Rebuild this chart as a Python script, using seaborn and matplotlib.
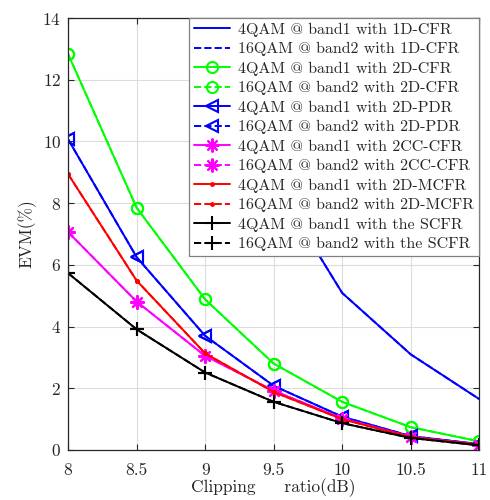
# EVM vs clipping ratio for the different CFR schemes

import matplotlib
matplotlib.use('Agg')
import matplotlib.pyplot as plt
import pandas as pd
import seaborn as sns

clipping_ratio = [8, 8.5, 9, 9.5, 10, 10.5, 11]

# EVM (%); band2 curves sit right under band1
evm_1d_cfr = [27.0, 19.5, 13.0, 8.7, 5.09, 3.1, 1.65]
evm_2d_cfr = [12.83, 7.85, 4.88, 2.8, 1.56, 0.74, 0.28]
evm_2d_pdr = [10.07, 6.25, 3.7, 2.08, 1.08, 0.45, 0.19]
evm_2cc_cfr = [7.06, 4.81, 3.05, 1.92, 1.02, 0.43, 0.17]
evm_2d_mcfr = [8.94, 5.49, 3.13, 1.88, 1.0, 0.42, 0.17]
evm_scfr = [5.73, 3.91, 2.51, 1.56, 0.87, 0.39, 0.15]

schemes = ['1D-CFR', '2D-CFR', '2D-PDR', '2CC-CFR', '2D-MCFR', 'the SCFR']
scheme_values = [evm_1d_cfr, evm_2d_cfr, evm_2d_pdr, evm_2cc_cfr, evm_2d_mcfr, evm_scfr]
scheme_colors = ['#0000ff', '#00ff00', '#0000ff', '#ff00ff', '#ff0000', '#000000']
scheme_markers = [None, 'o', '<', (8, 2, 0), '.', '+']
marker_sizes = [8, 8, 8, 10, 4, 10]


def build_frame():
    rows = []
    for name, vals in zip(schemes, scheme_values):
        for band, mod in [('band1', '4QAM'), ('band2', '16QAM')]:
            for x, y in zip(clipping_ratio, vals):
                rows.append({'ratio': x, 'evm': y, 'scheme': name,
                             'band': band, 'label': f'{mod} @ {band} with {name}'})
    return pd.DataFrame(rows)


def main():
    sns.set_style('ticks')
    plt.rcParams['font.family'] = ['cmr10', 'Liberation Serif', 'DejaVu Serif']
    plt.rcParams['mathtext.fontset'] = 'cm'
    plt.rcParams['axes.unicode_minus'] = False
    plt.rcParams['axes.formatter.use_mathtext'] = True

    df = build_frame()

    fig = plt.figure(figsize=(4.9, 5.0), dpi=100)
    ax = fig.add_axes([0.139, 0.1, 0.839, 0.864])

    for name, color, marker, ms in zip(schemes, scheme_colors, scheme_markers, marker_sizes):
        for band, ls in [('band1', '-'), ('band2', '--')]:
            sub = df[(df['scheme'] == name) & (df['band'] == band)]
            sns.lineplot(data=sub, x='ratio', y='evm', ax=ax, color=color,
                         linestyle=ls, linewidth=1.4, marker=marker,
                         markersize=ms, markerfacecolor='none' if marker in ('o', '<') else color,
                         markeredgecolor=color, markeredgewidth=1.5,
                         label=sub['label'].iloc[0], estimator=None, sort=False)

    ax.set_xlim(8, 11)
    ax.set_ylim(0, 14)
    ax.set_xticks(clipping_ratio)
    ax.set_xticklabels(['8', '8.5', '9', '9.5', '10', '10.5', '11'])
    ax.set_yticks([0, 2, 4, 6, 8, 10, 12, 14])
    ax.grid(True, color='#dcdcdc', linewidth=0.8)
    ax.set_axisbelow(True)
    ax.tick_params(direction='in', top=True, right=True, labelsize=12.5,
                   colors='#262626', length=4)
    ax.tick_params(axis='x', pad=9)
    ax.tick_params(axis='y', pad=5)
    for sp in ax.spines.values():
        sp.set_visible(True)
        sp.set_color('#262626')
        sp.set_linewidth(0.9)

    ax.set_xlabel('Clipping     ratio(dB)', fontsize=12.5, labelpad=0, color='#262626')
    ax.set_ylabel('EVM(%)', fontsize=12.5, labelpad=4, color='#262626')

    leg = ax.legend(loc='upper right', fontsize=11.5, frameon=True, fancybox=False,
                    framealpha=1, edgecolor='#808080', borderaxespad=0.0,
                    handlelength=2.3, labelspacing=0.33, borderpad=0.3,
                    handletextpad=0.5)
    leg.get_frame().set_linewidth(0.9)

    fig.savefig('out.png', dpi=100)
    plt.close(fig)


if __name__ == '__main__':
    main()
